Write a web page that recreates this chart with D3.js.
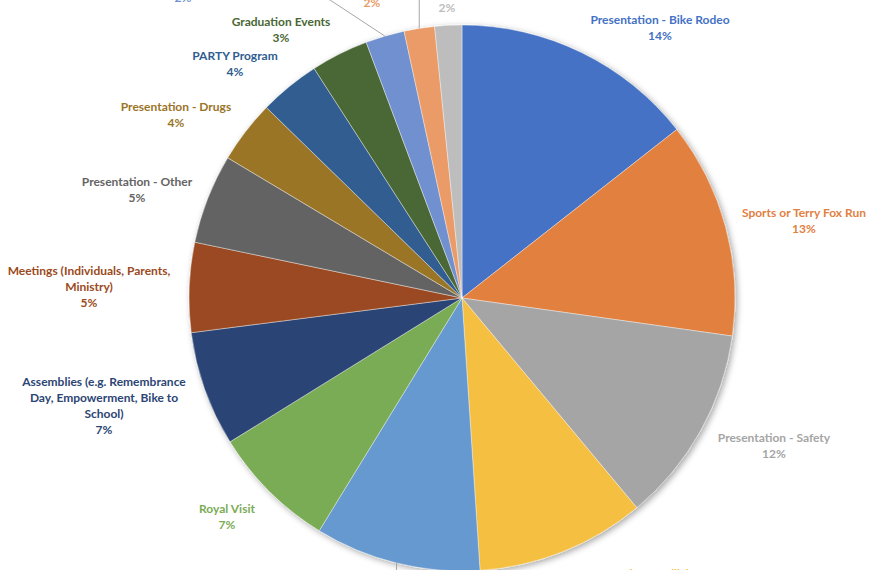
<!DOCTYPE html>
<html lang="en">
    <head>
        <meta charset="utf-8">
        <title>Pie chart</title>
        <script src="https://cdn.jsdelivr.net/npm/d3@7"></script>
        <style>
            body { margin: 0; background: #fff; }
            text { font-family: Lato, "Open Sans", sans-serif; font-weight: 700; font-size: 12px; }
        </style>
    </head>
    <body>
        <div id="chart"></div>
        <script>
            // data
            var categories = [
                "Presentation - Bike Rodeo", "Sports or Terry Fox Run", "Presentation - Safety",
                "Presentation - Collision", "Community Events", "Royal Visit",
                "Assemblies (e.g. Remembrance Day, Empowerment, Bike to School)",
                "Meetings (Individuals, Parents, Ministry)", "Presentation - Other",
                "Presentation - Drugs", "PARTY Program", "Graduation Events",
                "Career Day", "Workshops", "Other Visits"
            ];
            var values = [14.4, 12.8, 11.7, 10.0, 9.8, 7.4, 6.8, 5.3, 5.3, 3.7, 3.6, 3.4, 2.3, 1.8, 1.6];
            var colors = [
                "#4472C4", "#E2803F", "#A5A5A5", "#F5BF42", "#6699CF", "#7AAB55",
                "#2C4574", "#9A4A20", "#646464", "#9A7427", "#305D90", "#4A6734",
                "#7190D0", "#EA9B68", "#BDBDBD"
            ];

            var w = 870, h = 570;
            var cx = 462, cy = 298, r = 273;

            // label anchors: centre x, baseline of first line
            var labelPos = [
                [660, 24], [804, 217], [774, 442], [640, 578], [390, 600], [227, 513],
                [104, 386], [89, 275], [137, 186], [176, 111], [235, 60], [281, 26],
                [183, -14], [372, -9], [447, -4]
            ];

            var svg = d3.select("#chart").append("svg")
                        .attr("width", w)
                        .attr("height", h);

            var defs = svg.append("defs");
            defs.append("filter")
                .attr("id", "shadow")
                .attr("x", "-10%").attr("y", "-10%")
                .attr("width", "120%").attr("height", "120%")
                .append("feDropShadow")
                .attr("dx", 2).attr("dy", 2)
                .attr("stdDeviation", 3)
                .attr("flood-color", "#000")
                .attr("flood-opacity", 0.35);

            var total = d3.sum(values);
            var pct = d3.format(".0%");

            var pie = d3.pie().sort(null).value(function(d) { return d; });
            var arcs = pie(values);
            var arc = d3.arc().innerRadius(0).outerRadius(r);
            var edge = d3.arc().innerRadius(r).outerRadius(r);

            var g = svg.append("g")
                       .attr("transform", "translate(" + cx + "," + cy + ")");

            g.append("g")
             .attr("filter", "url(#shadow)")
             .selectAll("path")
             .data(arcs)
             .enter()
             .append("path")
             .attr("d", arc)
             .attr("fill", function(d, i) { return colors[i]; })
             .attr("stroke", "#fff")
             .attr("stroke-width", 0.4);

            // leader lines for the small / far slices
            var leaders = [
                { i: 12, to: [[330 - cx, 0 - cy], [250 - cx, -50 - cy]] },
                { i: 13, to: [[null, -10 - cy]] },
                { i: 4,  to: [[null, 590 - cy]] }
            ];
            leaders.forEach(function(l) {
                var p = edge.centroid(arcs[l.i]);
                var pts = [p].concat(l.to.map(function(q) { return [q[0] === null ? p[0] : q[0], q[1]]; }));
                g.append("path")
                 .attr("d", d3.line()(pts))
                 .attr("fill", "none")
                 .attr("stroke", "#A6A6A6")
                 .attr("stroke-width", 1);
            });

            // labels
            var tmp = svg.append("text").attr("visibility", "hidden");
            function wrap(str, maxW) {
                var words = str.split(" "), lines = [], cur = "";
                words.forEach(function(word) {
                    var test = cur ? cur + " " + word : word;
                    tmp.text(test);
                    if (cur && tmp.node().getComputedTextLength() > maxW) {
                        lines.push(cur);
                        cur = word;
                    } else {
                        cur = test;
                    }
                });
                lines.push(cur);
                return lines;
            }

            var labels = svg.append("g").attr("class", "labels");
            categories.forEach(function(name, i) {
                var lines = wrap(name, 168);
                lines.push(pct(values[i] / total));
                var t = labels.append("text")
                              .attr("text-anchor", "middle")
                              .attr("fill", colors[i]);
                lines.forEach(function(line, k) {
                    t.append("tspan")
                     .attr("x", labelPos[i][0])
                     .attr("y", labelPos[i][1] + k * 16)
                     .text(line);
                });
            });
            tmp.remove();
        </script>
    </body>
</html>
